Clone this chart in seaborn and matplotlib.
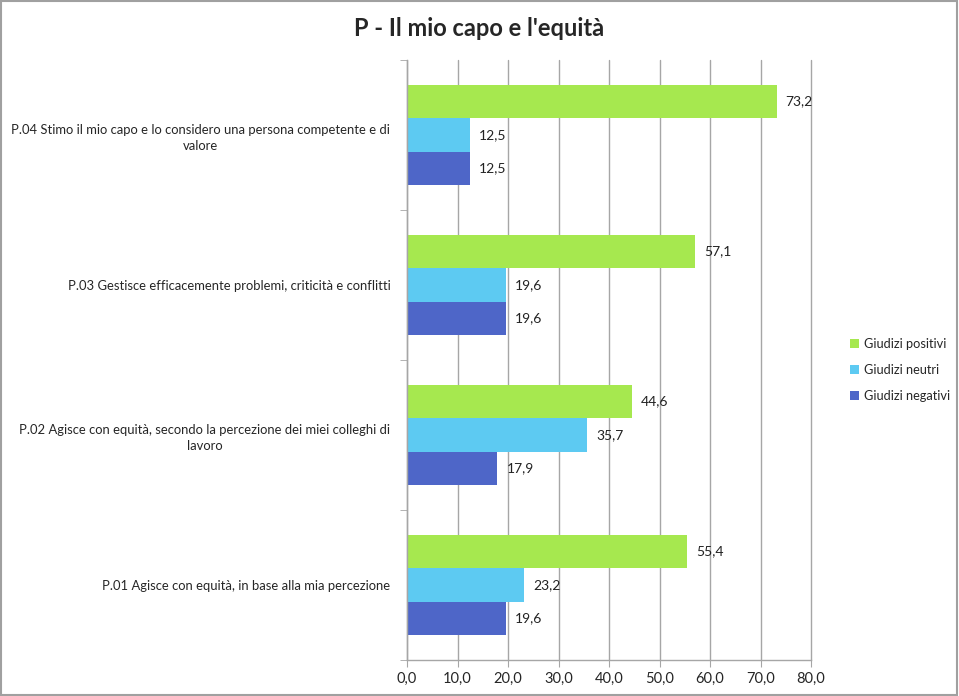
import matplotlib
matplotlib.use("Agg")
import matplotlib.pyplot as plt
import seaborn as sns
import pandas as pd
from matplotlib.patches import Rectangle
from matplotlib.ticker import FixedLocator

categories = [
    "P.04 Stimo il mio capo e lo considero una persona competente e di\nvalore",
    "P.03 Gestisce efficacemente problemi, criticità e conflitti",
    "P.02 Agisce con equità, secondo la percezione dei miei colleghi di\nlavoro",
    "P.01 Agisce con equità, in base alla mia percezione",
]
series = ["Giudizi positivi", "Giudizi neutri", "Giudizi negativi"]
positivi = [73.2, 57.1, 44.6, 55.4]
neutri = [12.5, 19.6, 35.7, 23.2]
negativi = [12.5, 19.6, 17.9, 19.6]
xticks = [0, 10, 20, 30, 40, 50, 60, 70, 80]
title = "P - Il mio capo e l'equità"

colors = ["#A6E84F", "#5DCAF2", "#4E66C8"]

rows = []
for s, vals in zip(series, [positivi, neutri, negativi]):
    for c, v in zip(categories, vals):
        rows.append({"cat": c, "serie": s, "val": v})
df = pd.DataFrame(rows)

sns.set_style("white")
plt.rcParams["font.family"] = ["Lato", "DejaVu Sans"]

fig = plt.figure(figsize=(9.59, 6.96), dpi=100)
ax = fig.add_axes([407 / 959, 1 - 660 / 696, (811 - 407) / 959, 600 / 696])

sns.barplot(data=df, y="cat", x="val", hue="serie", order=categories,
            hue_order=series, palette=colors, orient="h", width=0.667,
            saturation=1, ax=ax, legend=True, linewidth=0)

for cont in ax.containers:
    for bar in cont:
        w = bar.get_width()
        ax.annotate(f"{w:.1f}".replace(".", ","),
                    xy=(w, bar.get_y() + bar.get_height() / 2),
                    xytext=(6.5, 0), textcoords="offset points",
                    ha="left", va="center", fontsize=10, color="#222222")

ax.set_xlim(0, 80)
ax.set_ylim(3.5, -0.5)
ax.set_xticks(xticks)
ax.set_xticklabels([f"{t:.1f}".replace(".", ",") for t in xticks], fontsize=10.5)
ax.xaxis.grid(True, color="#A6A6A6", linewidth=1)
for gl in ax.get_xgridlines():
    gl.set_clip_on(False)
ax.set_axisbelow(True)
ax.set_xlabel("")
ax.set_ylabel("")
ax.tick_params(axis="y", length=0, labelsize=9.4, pad=12)
for lab in ax.get_yticklabels():
    lab.set_multialignment("center")
    lab.set_linespacing(1.35)
ax.yaxis.set_minor_locator(FixedLocator([-0.5, 0.5, 1.5, 2.5, 3.5]))
ax.tick_params(axis="y", which="minor", length=5, color="#A6A6A6", left=True)
ax.tick_params(axis="x", length=5, color="#A6A6A6", bottom=True, labelsize=10.5)
for side in ["top", "right"]:
    ax.spines[side].set_visible(False)
for side in ["left", "bottom"]:
    ax.spines[side].set_color("#A6A6A6")
    ax.spines[side].set_linewidth(1)

leg = ax.legend(loc="center left", bbox_to_anchor=(845 / 959, 1 - 370 / 696),
                bbox_transform=fig.transFigure, frameon=False, fontsize=9.2,
                handlelength=0.7, handleheight=0.7, handletextpad=0.4,
                labelspacing=1.1, borderaxespad=0)

fig.text(0.5, 1 - 28 / 696, title, ha="center", va="center",
         fontsize=17, fontweight="bold")

fig.patches.append(Rectangle((0.001, 0.002), 0.997, 0.996, transform=fig.transFigure,
                             fill=False, edgecolor="#A0A0A0", linewidth=1.5))

fig.savefig("out.png", dpi=100)
